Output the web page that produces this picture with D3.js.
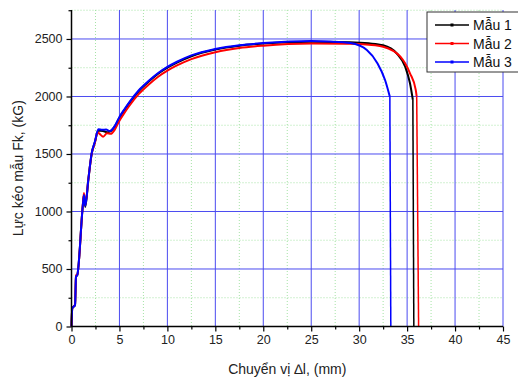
<!DOCTYPE html>
<html>
<head>
<meta charset="utf-8">
<script src="https://cdn.jsdelivr.net/npm/d3@7"></script>
<style>
  body { margin: 0; background: #fff; }
  svg { display: block; font-family: "Liberation Sans", Arial, sans-serif; }
</style>
</head>
<body>
<svg width="518" height="381"></svg>
<script>
const xTicks = [0, 5, 10, 15, 20, 25, 30, 35, 40, 45];
const yTicks = [0, 500, 1000, 1500, 2000, 2500];
const seriesNames = ["Mẫu 1", "Mẫu 2", "Mẫu 3"];
const seriesColors = ["#000000", "#ff0000", "#0000ff"];

// displacement (mm) / force (kG)
const mau1X = [0, 0.08, 0.37, 0.47, 0.6, 1.17, 1.3, 1.44, 1.75, 2.1, 2.45, 2.8, 3.3, 3.7, 4.0, 4.5, 5, 5.5, 6, 7, 8, 9, 10, 11, 12.5, 15, 17.5, 20, 25, 29, 31, 32.5, 33.9, 34.8, 35.3, 35.6, 35.7];
const mau1Y = [0, 158, 187, 433, 446, 1042, 1143, 1040, 1273, 1500, 1607, 1705, 1700, 1690, 1695, 1738, 1815, 1880, 1940, 2045, 2125, 2195, 2250, 2295, 2350, 2408, 2442, 2460, 2477, 2472, 2462, 2445, 2376, 2259, 2115, 1970, 0];

const mau2X = [0, 0.08, 0.37, 0.47, 0.6, 1.17, 1.3, 1.44, 1.75, 2.1, 2.45, 2.7, 3.0, 3.3, 3.7, 4.1, 4.5, 5, 5.5, 6, 7, 8, 9, 10, 11, 12.5, 15, 17.5, 20, 25, 29, 31, 32.5, 34.3, 35.3, 35.9, 36.0, 36.2];
const mau2Y = [0, 158, 190, 445, 450, 1050, 1160, 1060, 1273, 1500, 1600, 1690, 1670, 1650, 1680, 1675, 1710, 1790, 1855, 1915, 2020, 2100, 2170, 2225, 2270, 2325, 2385, 2422, 2442, 2460, 2458, 2450, 2433, 2346, 2202, 2057, 1998, 0];

const mau3X = [0, 0.08, 0.37, 0.47, 0.6, 1.17, 1.3, 1.44, 1.75, 2.1, 2.45, 2.8, 3.2, 3.6, 4.0, 4.5, 5, 5.5, 6, 7, 8, 9, 10, 11, 12.5, 15, 17.5, 20, 25, 27, 29.1, 30.8, 31.9, 32.7, 33.2, 33.3];
const mau3Y = [0, 158, 187, 433, 446, 1042, 1143, 1050, 1273, 1505, 1610, 1715, 1710, 1712, 1700, 1742, 1822, 1887, 1947, 2052, 2132, 2202, 2257, 2302, 2357, 2413, 2446, 2464, 2482, 2478, 2465, 2404, 2289, 2143, 1998, 0];

const svg = d3.select("svg");
const margin = {left: 71.5, top: 10, right: 15, bottom: 54.5};
const innerW = 518 - margin.left - margin.right;
const innerH = 381 - margin.top - margin.bottom;

const x = d3.scaleLinear().domain([0, 45]).range([0, innerW]);
const y = d3.scaleLinear().domain([0, 2752]).range([innerH, 0]);

const g = svg.append("g").attr("transform", `translate(${margin.left},${margin.top})`);

// minor dotted grid
const minorX = d3.range(2.5, 45, 5);
const minorY = d3.range(250, 2752, 500);
g.selectAll(".gmx").data(minorX).enter().append("line")
  .attr("x1", d => x(d)).attr("x2", d => x(d))
  .attr("y1", 0).attr("y2", innerH)
  .attr("stroke", "#a5e3a5").attr("stroke-dasharray", "1,2").attr("stroke-width", 1);
g.selectAll(".gmy").data(minorY).enter().append("line")
  .attr("x1", 0).attr("x2", innerW)
  .attr("y1", d => y(d)).attr("y2", d => y(d))
  .attr("stroke", "#a5e3a5").attr("stroke-dasharray", "1,2").attr("stroke-width", 1);

// major grid
g.selectAll(".gx").data(xTicks.slice(1)).enter().append("line")
  .attr("x1", d => x(d)).attr("x2", d => x(d))
  .attr("y1", 0).attr("y2", innerH)
  .attr("stroke", "#4b4bf0").attr("stroke-width", 1);
g.selectAll(".gy").data(yTicks.slice(1)).enter().append("line")
  .attr("x1", 0).attr("x2", innerW)
  .attr("y1", d => y(d)).attr("y2", d => y(d))
  .attr("stroke", "#4b4bf0").attr("stroke-width", 1);

// curves
const series = [
  {xs: mau1X, ys: mau1Y},
  {xs: mau2X, ys: mau2Y},
  {xs: mau3X, ys: mau3Y}
];
const line = d3.line().x(d => x(d[0])).y(d => y(d[1])).curve(d3.curveMonotoneX);
const lineV = d3.line().x(d => x(d[0])).y(d => y(d[1]));

series.forEach((s, i) => {
  const pts = s.xs.map((v, k) => [v, s.ys[k]]);
  // smooth curve, then the straight drop at fracture
  const main = pts.slice(0, pts.length - 1);
  const tail = pts.slice(pts.length - 2);
  g.append("path").attr("d", line(main))
    .attr("fill", "none").attr("stroke", seriesColors[i]).attr("stroke-width", 2)
    .attr("stroke-linejoin", "round");
  g.append("path").attr("d", lineV(tail))
    .attr("fill", "none").attr("stroke", seriesColors[i]).attr("stroke-width", 1.5);
});

// axes
const fmt = d3.format("d");
const xAxis = g.append("g").attr("transform", `translate(0,${innerH})`)
  .call(d3.axisBottom(x).tickValues(xTicks).tickSize(5).tickPadding(4).tickFormat(fmt));
g.append("g").attr("transform", `translate(0,${innerH})`)
  .call(d3.axisBottom(x).tickValues(minorX).tickSize(3).tickFormat(""))
  .select(".domain").remove();
const yAxis = g.append("g")
  .call(d3.axisLeft(y).tickValues(yTicks).tickSize(5).tickPadding(4).tickFormat(fmt));
g.append("g")
  .call(d3.axisLeft(y).tickValues(minorY).tickSize(3).tickFormat(""))
  .select(".domain").remove();

svg.selectAll(".domain").attr("stroke", "#000").attr("stroke-width", 1.5);
svg.selectAll(".tick line").attr("stroke", "#000").attr("stroke-width", 1.2);
svg.selectAll(".tick text").attr("font-size", 12.5).attr("fill", "#222")
  .attr("font-family", "Liberation Sans, Arial, sans-serif");
yAxis.select(".domain").attr("d", `M0,${innerH}V0`);
xAxis.select(".domain").attr("d", `M0,0H${innerW}`);

// axis titles
svg.append("text")
  .attr("x", margin.left + innerW / 2).attr("y", 374)
  .attr("text-anchor", "middle").attr("font-size", 14).attr("fill", "#222")
  .text("Chuyển vị ∆l, (mm)");
svg.append("text")
  .attr("transform", `translate(23,${margin.top + innerH / 2}) rotate(-90)`)
  .attr("text-anchor", "middle").attr("font-size", 14).attr("fill", "#222")
  .text("Lực kéo mẫu Fk, (kG)");

// legend
const leg = svg.append("g").attr("transform", "translate(427,12)");
leg.append("rect").attr("width", 95).attr("height", 60)
  .attr("fill", "#fff").attr("stroke", "#333").attr("stroke-width", 1);
seriesNames.forEach((name, i) => {
  const yy = 13 + i * 18.5;
  leg.append("line").attr("x1", 8).attr("x2", 42).attr("y1", yy).attr("y2", yy)
    .attr("stroke", seriesColors[i]).attr("stroke-width", 1.5);
  leg.append("rect").attr("x", 23.5).attr("y", yy - 1.5).attr("width", 3).attr("height", 3)
    .attr("fill", seriesColors[i]);
  leg.append("text").attr("x", 46).attr("y", yy + 5)
    .attr("font-size", 14).attr("fill", "#111").text(name);
});
</script>
</body>
</html>
